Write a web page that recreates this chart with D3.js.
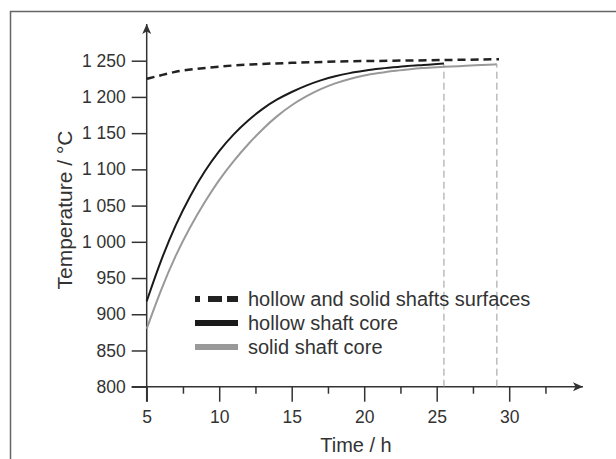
<!DOCTYPE html>
<html>
<head>
<meta charset="utf-8">
<script src="https://cdn.jsdelivr.net/npm/d3@7"></script>
<style>
  body { margin: 0; background: #fff; }
  svg text { font-family: "Liberation Sans", Arial, sans-serif; fill: #333; }
</style>
</head>
<body>
<svg id="chart"></svg>
<script>
// values (time in h, temperature in °C)
var surfaceTime = [5, 6, 7, 8, 10, 12, 15, 18, 22, 26, 29.3];
var surfaceTemp = [1225, 1230, 1235, 1238, 1242, 1245, 1247, 1249, 1250, 1251, 1252];

var hollowTime = [5, 6, 7, 8, 9, 10, 11, 12, 13, 14, 15, 16, 17, 18, 19, 20, 21, 22, 23, 24, 25.5];
var hollowTemp = [918, 976, 1024, 1064, 1098, 1126, 1149, 1168, 1184, 1197, 1207, 1216, 1223, 1229, 1233, 1236, 1239, 1241, 1243, 1244, 1246];

var solidTime = [5, 6, 7, 8, 9, 10, 11, 12, 13, 14, 15, 16, 17, 18, 19, 20, 21, 22, 23, 24, 25, 26, 27, 28, 29.15];
var solidTemp = [880, 935, 982, 1021, 1055, 1086, 1112, 1135, 1156, 1174, 1189, 1201, 1211, 1219, 1225, 1230, 1233, 1236, 1238, 1240, 1241, 1242, 1243, 1244, 1245];

var endTimes = [25.5, 29.15];
var xTicks = [5, 10, 15, 20, 25, 30];
var xMinorTicks = [7.5, 12.5, 17.5, 22.5, 27.5, 32.5];
var yTicks = [800, 850, 900, 950, 1000, 1050, 1100, 1150, 1200, 1250];
var legendLabels = ['hollow and solid shafts surfaces', 'hollow shaft core', 'solid shaft core'];

var width = 616, height = 459;

var svg = d3.select('#chart')
  .attr('width', width)
  .attr('height', height);

// frame
svg.append('path')
  .attr('d', 'M10.5,459 V11.5 H616')
  .attr('fill', 'none')
  .attr('stroke', '#666')
  .attr('stroke-width', 1.5);

var xScale = d3.scaleLinear()
  .domain([5, 35])
  .range([146.7, 581.7]);
var yScale = d3.scaleLinear()
  .domain([800, 1250])
  .range([386.7, 60.7]);

var fmt = d3.formatLocale({decimal: '.', thousands: ' ', grouping: [3], currency: ['', '']}).format(',');

var defs = svg.append('defs');
defs.append('marker')
  .attr('id', 'arrow')
  .attr('viewBox', '0 0 10 10')
  .attr('refX', 10)
  .attr('refY', 5)
  .attr('markerWidth', 10)
  .attr('markerHeight', 10)
  .attr('markerUnits', 'userSpaceOnUse')
  .attr('orient', 'auto')
  .append('path')
    .attr('d', 'M0,0.5 L10,5 L0,9.5 L2.5,5 Z')
    .attr('fill', '#333');

// axis lines with arrows
svg.append('line')
  .attr('x1', xScale(5) - 15).attr('x2', 583)
  .attr('y1', yScale(800)).attr('y2', yScale(800))
  .attr('stroke', '#333').attr('stroke-width', 1.5)
  .attr('marker-end', 'url(#arrow)');
svg.append('line')
  .attr('x1', xScale(5)).attr('x2', xScale(5))
  .attr('y1', yScale(800) + 15).attr('y2', 24)
  .attr('stroke', '#333').attr('stroke-width', 1.5)
  .attr('marker-end', 'url(#arrow)');

var xAxis = d3.axisBottom(xScale)
  .tickValues(xTicks)
  .tickSize(15)
  .tickPadding(9)
  .tickFormat(d3.format('d'));
var gx = svg.append('g')
  .attr('transform', 'translate(0,' + yScale(800) + ')')
  .call(xAxis);
gx.select('.domain').remove();
gx.selectAll('line').attr('stroke', '#333').attr('stroke-width', 1.5);
gx.selectAll('text').style('font-size', '17.5px').attr('fill', '#333');

var gxm = svg.append('g')
  .attr('transform', 'translate(0,' + yScale(800) + ')')
  .call(d3.axisBottom(xScale).tickValues(xMinorTicks).tickSize(7).tickFormat(''));
gxm.select('.domain').remove();
gxm.selectAll('line').attr('stroke', '#333').attr('stroke-width', 1.5);

var yAxis = d3.axisLeft(yScale)
  .tickValues(yTicks)
  .tickSize(15)
  .tickPadding(6)
  .tickFormat(fmt);
var gy = svg.append('g')
  .attr('transform', 'translate(' + xScale(5) + ',0)')
  .call(yAxis);
gy.select('.domain').remove();
gy.selectAll('line').attr('stroke', '#333').attr('stroke-width', 1.5);
gy.selectAll('text').style('font-size', '17.5px').attr('fill', '#333');

// axis titles
svg.append('text')
  .attr('x', 356)
  .attr('y', 452)
  .style('text-anchor', 'middle')
  .style('font-size', '20px')
  .text('Time / h');
svg.append('text')
  .attr('transform', 'translate(72,210) rotate(-90)')
  .style('text-anchor', 'middle')
  .style('font-size', '21px')
  .text('Temperature / °C');

// end-of-heating markers
svg.selectAll('.endline')
  .data(endTimes)
  .enter()
  .append('line')
    .attr('class', 'endline')
    .attr('x1', d => xScale(d)).attr('x2', d => xScale(d))
    .attr('y1', yScale(800)).attr('y2', yScale(1245))
    .attr('stroke', '#999')
    .attr('stroke-width', 1)
    .attr('stroke-dasharray', '7,4');

var line = d3.line()
  .x(d => xScale(d[0]))
  .y(d => yScale(d[1]))
  .curve(d3.curveBasis);

var series = [
  {pts: d3.zip(solidTime, solidTemp), color: '#999', width: 2, dash: null},
  {pts: d3.zip(hollowTime, hollowTemp), color: '#1a1a1a', width: 2, dash: null},
  {pts: d3.zip(surfaceTime, surfaceTemp), color: '#222', width: 2.5, dash: '8,5'}
];

svg.selectAll('.series')
  .data(series)
  .enter()
  .append('path')
    .attr('class', 'series')
    .attr('d', d => line(d.pts))
    .attr('fill', 'none')
    .attr('stroke', d => d.color)
    .attr('stroke-width', d => d.width)
    .attr('stroke-dasharray', d => d.dash);

// legend
var legendStyle = [
  {color: '#222', dash: '5,8,14,5,11'},
  {color: '#1a1a1a', dash: null},
  {color: '#999', dash: null}
];
var legend = svg.append('g');
var rows = legend.selectAll('g')
  .data(legendLabels)
  .enter()
  .append('g')
    .attr('transform', (d, i) => 'translate(195,' + (299 + i * 24) + ')');
rows.append('line')
  .attr('x1', 0).attr('x2', 43)
  .attr('y1', 0).attr('y2', 0)
  .attr('stroke', (d, i) => legendStyle[i].color)
  .attr('stroke-width', 6)
  .attr('stroke-dasharray', (d, i) => legendStyle[i].dash);
rows.append('text')
  .attr('x', 53)
  .attr('dy', '0.35em')
  .style('font-size', '20px')
  .text(d => d);
</script>
</body>
</html>
